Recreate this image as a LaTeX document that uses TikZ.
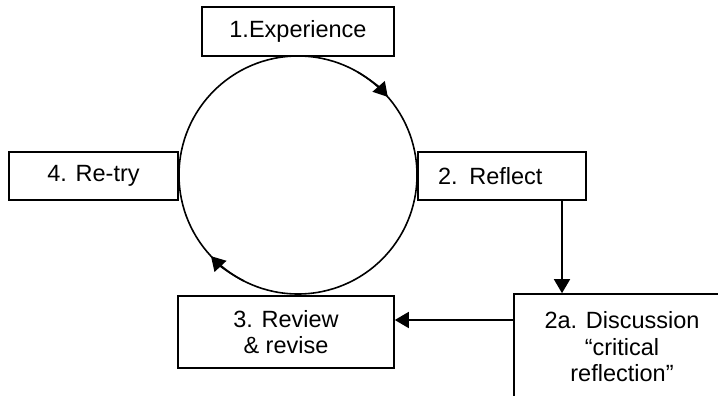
\documentclass[tikz,border=0pt]{standalone}
\usepackage{fontspec}
\setmainfont{Liberation Sans}
\usetikzlibrary{arrows.meta}

\begin{document}
\begin{tikzpicture}[x=1pt,y=1pt]
    \tikzstyle{bnode} = [draw, line width=1.6pt, rectangle, inner sep=0pt, align=center, font=\fontsize{23.5}{26.5}\selectfont]
    \tikzstyle{arr} = [line width=1.6pt, -{Triangle[length=14pt,width=16pt]}]

    \useasboundingbox (0,0) rectangle (718,-396);
    \clip (0,0) rectangle (718,-396);

    % the cycle
    \node[draw, circle, line width=1.6pt, minimum size=238pt, inner sep=0pt, outer sep=0pt] (cycle) at (298,-175) {};

    \node[bnode, minimum width=192pt, minimum height=49pt] (exp) at (298,-31.5) {1.Experience};
    \node[bnode, text width=128pt, align=left, inner xsep=20pt, minimum height=48pt] (reflect) at (502,-176) {2. Reflect};
    \node[bnode, minimum width=216pt, minimum height=106pt] (discuss) at (622,-347) {2a. Discussion\\“critical\\reflection”};
    \node[bnode, minimum width=216pt, minimum height=72pt] (review) at (286,-332) {3. Review\\\& revise};
    \node[bnode, minimum width=169pt, minimum height=48pt] (retry) at (93.5,-176) {4. Re-try};

    % arrows on the cycle
    \draw[arr] (cycle.60) arc[start angle=60, end angle=41, radius=119pt];
    \draw[arr] (cycle.243) arc[start angle=243, end angle=223, radius=119pt];

    \draw[arr] ([xshift=60pt]reflect.south) -- ([xshift=60pt]reflect.south |- discuss.north);
    \draw[arr] ([yshift=27pt]discuss.west) -- ([yshift=27pt]discuss.west -| review.east);
\end{tikzpicture}
\end{document}
